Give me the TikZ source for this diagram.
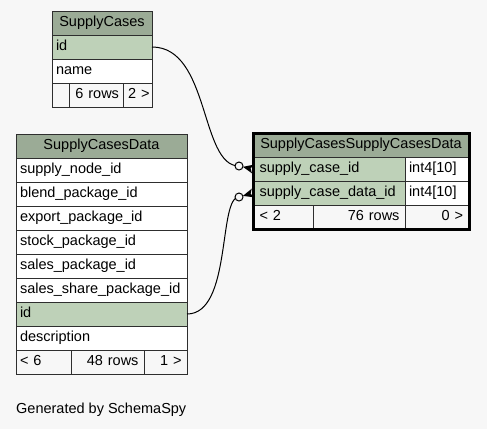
\documentclass[tikz,border=0pt]{standalone}
\usepackage{fontspec}
\setmainfont{Liberation Sans}
\usetikzlibrary{calc}
\definecolor{canvas}{HTML}{F7F7F7}
\definecolor{headgreen}{HTML}{9BAB96}
\definecolor{keygreen}{HTML}{BED1B8}
\definecolor{rule}{HTML}{2E2E2E}

\begin{document}
\begin{tikzpicture}[x=1pt,y=-1pt,
  cell/.style={draw=rule, line width=1pt, rectangle, anchor=north west,
    outer sep=0pt, minimum height=24pt, inner xsep=4pt, inner ysep=0pt,
    text height=10.5pt, text depth=3.5pt,
    font=\fontsize{14.5}{17}\selectfont},
  hd/.style={cell, fill=headgreen, align=center},
  pk/.style={cell, fill=keygreen, align=left},
  col/.style={cell, fill=white, align=left},
  ftr/.style={cell, fill=canvas, align=right, inner xsep=5.5pt},
  ftl/.style={cell, fill=canvas, align=left},
  thick/.style={inner xsep=6.5pt},
  link/.style={line width=1pt, black},
]
% canvas
\fill[canvas] (0,0) rectangle (487,429);
\useasboundingbox (0,0) rectangle (487,429);

% ---- SupplyCases ----
\node[hd,  text width=92pt] (sc-head) at (52,11) {SupplyCases};
\node[pk,  text width=92pt] (sc-id)   at (52,35) {id};
\node[col, text width=92pt] (sc-name) at (52,59) {name};
\node[ftl, text width=9pt]  (sc-f1)   at (52,83) {};
\node[ftr, inner xsep=4pt, text width=46pt] (sc-f2) at (69,83) {6 rows\hspace*{2pt}};
\node[ftr, inner xsep=2.5pt, text width=24pt] (sc-f3) at (123,83) {2 >};

% ---- SupplyCasesData ----
\node[hd,  text width=163pt] (d-head) at (16,134) {SupplyCasesData};
\node[col, text width=163pt] (d-r1)   at (16,158) {supply\_node\_id};
\node[col, text width=163pt] (d-r2)   at (16,182) {blend\_package\_id};
\node[col, text width=163pt] (d-r3)   at (16,206) {export\_package\_id};
\node[col, text width=163pt] (d-r4)   at (16,230) {stock\_package\_id};
\node[col, text width=163pt] (d-r5)   at (16,254) {sales\_package\_id};
\node[col, text width=163pt] (d-r6)   at (16,278) {sales\_share\_package\_id};
\node[pk,  text width=163pt] (d-id)   at (16,302) {id};
\node[col, text width=163pt] (d-desc) at (16,326) {description};
\node[ftl, text width=47pt]  (d-f1)   at (16,350) {< 6};
\node[ftr, text width=62pt]  (d-f2)   at (71,350) {48 rows};
\node[ftr, text width=32pt]  (d-f3)   at (144,350) {1 >};

% ---- SupplyCasesSupplyCasesData ----
\node[hd,  text width=208pt] (l-head)   at (253,133) {SupplyCasesSupplyCasesData};
\node[pk, thick, text width=139pt] (l-case)   at (253,157) {supply\_case\_id};
\node[col, text width=56pt]  (l-case-t) at (405,157) {int4[10]};
\node[pk, thick, text width=139pt] (l-data)   at (253,181) {supply\_case\_data\_id};
\node[col, text width=56pt]  (l-data-t) at (405,181) {int4[10]};
\node[ftl, thick, text width=47pt] (l-f1) at (253,205) {< 2};
\node[ftr, text width=81pt]  (l-f2)     at (313,205) {76 rows};
\node[ftr, inner xsep=6pt, text width=52pt] (l-f3) at (405,205) {0 >};

% ---- relationships ----
\coordinate (o1) at (239,166);
\coordinate (o2) at (239,197);
\draw[link] (sc-id.east) .. controls (210,47) and (200,166) .. (o1);
\draw[link] (d-id.east) .. controls (232,314) and (218,197) .. (o2);

% crow's feet on the many side
\fill ($(o1)!4pt!(l-case.west)$) -- ($(l-case.west)!4.5pt!90:(o1)$)
  -- ($(l-case.west)!2.5pt!(o1)$) -- ($(l-case.west)!4.5pt!-90:(o1)$) -- cycle;
\fill ($(o2)!4pt!(l-data.west)$) -- ($(l-data.west)!4.5pt!90:(o2)$)
  -- ($(l-data.west)!2.5pt!(o2)$) -- ($(l-data.west)!4.5pt!-90:(o2)$) -- cycle;
\draw[link, fill=canvas] (o1) circle[radius=4pt];
\draw[link, fill=canvas] (o2) circle[radius=4pt];

% heavy outline of the focused table
\draw[line width=3pt, black] (l-head.north west) rectangle (l-f3.south east);

% caption
\node[anchor=base west, inner sep=0pt, font=\fontsize{14.5}{17}\selectfont]
  (caption) at (16,413.5) {Generated by SchemaSpy};
\end{tikzpicture}
\end{document}
